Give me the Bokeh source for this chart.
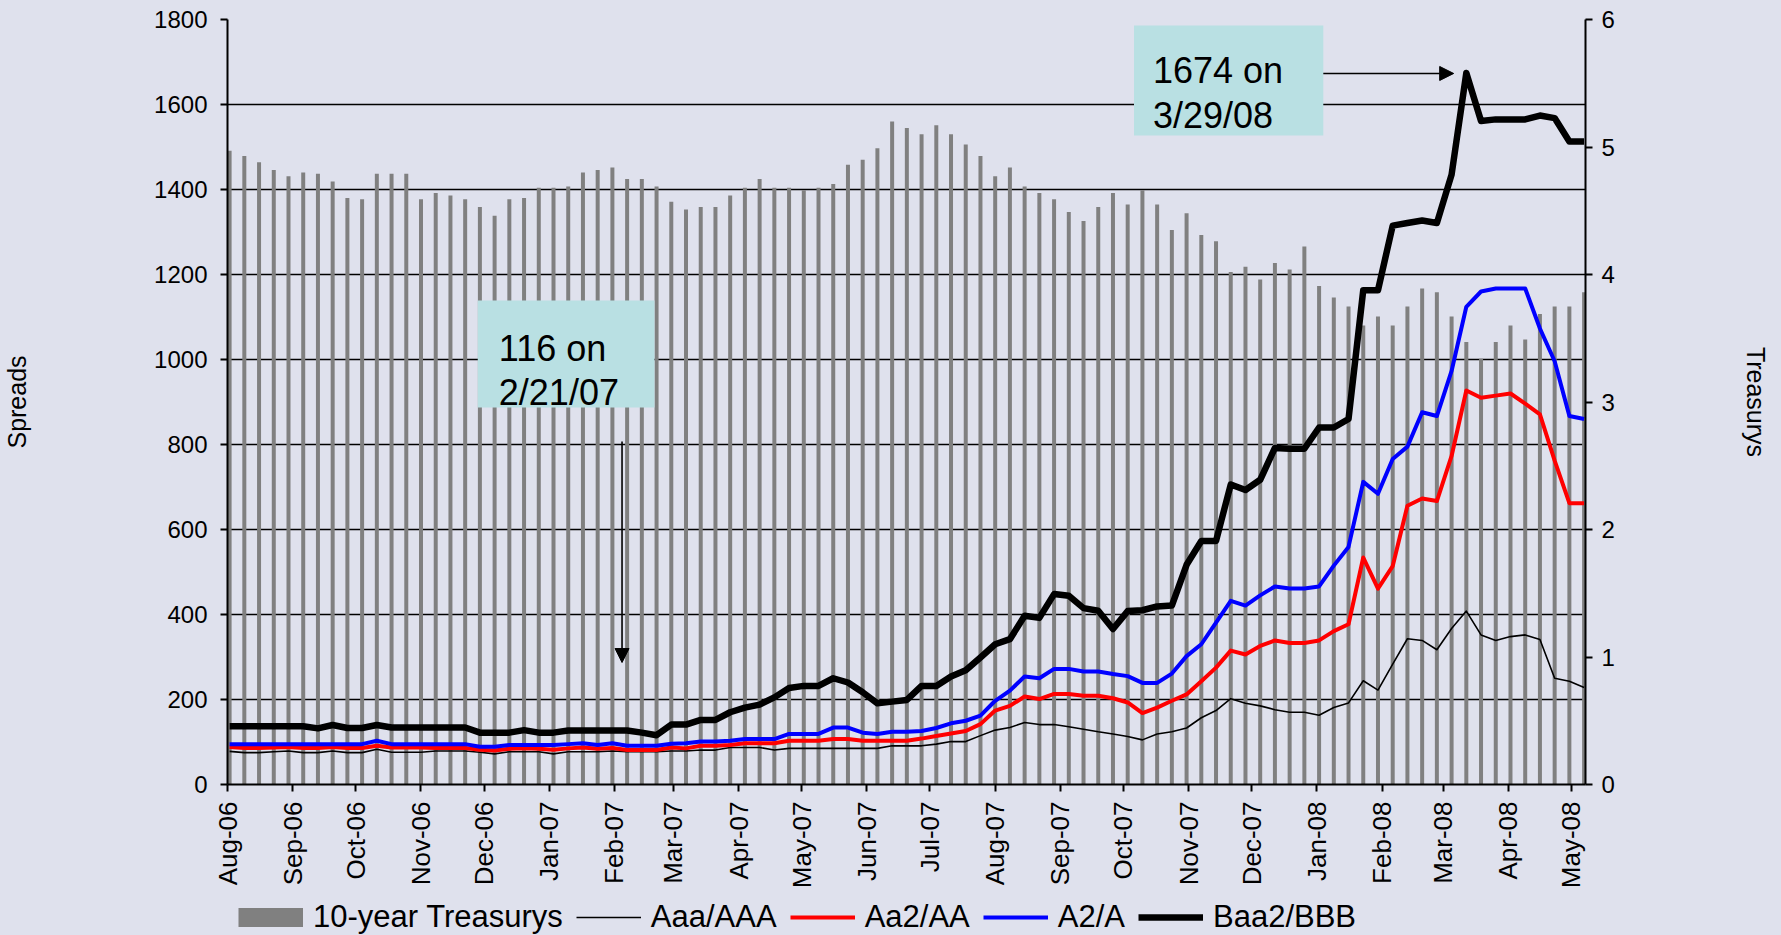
import pandas as pd
from math import pi
from bokeh.plotting import figure
from bokeh.layouts import column
from bokeh.models import (Range1d, LinearAxis, SingleIntervalTicker, DatetimeTickFormatter,
                          MonthsTicker, Legend, LegendItem, BoxAnnotation, Label, Arrow, NormalHead)
from bokeh.embed import file_html
from bokeh.resources import INLINE

# ---------------- data (weekly observations) ----------------
dates = pd.date_range("2006-08-02", periods=93, freq="7D")

treasury = [4.97, 4.93, 4.88, 4.82, 4.77, 4.80, 4.79, 4.73, 4.60, 4.59,
            4.79, 4.79, 4.79, 4.59, 4.64, 4.62, 4.59, 4.53, 4.46, 4.59,
            4.60, 4.68, 4.68, 4.69, 4.80, 4.82, 4.84, 4.75, 4.75, 4.69,
            4.57, 4.51, 4.53, 4.53, 4.62, 4.68, 4.75, 4.68, 4.68, 4.66,
            4.68, 4.71, 4.86, 4.90, 4.99, 5.20, 5.15, 5.10, 5.17, 5.10,
            5.02, 4.93, 4.77, 4.84, 4.69, 4.64, 4.59, 4.49, 4.42, 4.53,
            4.64, 4.55, 4.66, 4.55, 4.35, 4.48, 4.31, 4.26, 4.02, 4.06,
            3.96, 4.09, 4.04, 4.22, 3.91, 3.82, 3.75, 3.60, 3.67, 3.60,
            3.75, 3.89, 3.86, 3.67, 3.47, 3.34, 3.47, 3.60, 3.49, 3.69,
            3.75, 3.75, 3.86]

aaa = [78, 75, 75, 77, 79, 75, 75, 79, 75, 75,
       83, 76, 76, 76, 79, 79, 79, 76, 72, 77,
       77, 77, 72, 77, 77, 77, 79, 77, 77, 77,
       79, 79, 81, 81, 87, 87, 87, 81, 85, 85,
       85, 85, 85, 85, 85, 91, 91, 91, 95, 101,
       101, 115, 128, 134, 146, 141, 141, 136, 130, 124,
       119, 113, 105, 119, 124, 133, 157, 174, 202, 191,
       185, 176, 170, 170, 163, 181, 192, 244, 222, 283,
       343, 339, 317, 367, 408, 352, 339, 348, 352, 341,
       250, 243, 228]

aa = [88, 86, 86, 87, 88, 86, 86, 88, 86, 86,
      91, 87, 87, 87, 86, 86, 86, 82, 80, 84,
      85, 84, 82, 85, 87, 84, 86, 81, 81, 81,
      87, 85, 91, 91, 93, 97, 97, 97, 103, 103,
      103, 107, 107, 103, 103, 103, 103, 108, 114, 120,
      126, 142, 174, 185, 207, 201, 213, 213, 209, 209,
      203, 193, 168, 181, 197, 212, 243, 275, 315, 306,
      326, 339, 333, 333, 339, 361, 377, 534, 461, 514,
      656, 673, 667, 773, 927, 910, 915, 920, 896, 871,
      762, 662, 662]

a_single = [95, 95, 95, 95, 95, 95, 95, 95, 95, 95,
            103, 95, 95, 95, 95, 95, 95, 89, 89, 93,
            93, 93, 93, 95, 97, 93, 97, 91, 91, 91,
            96, 97, 101, 101, 103, 107, 107, 107, 119, 119,
            119, 134, 134, 122, 119, 124, 124, 126, 133, 144,
            150, 162, 197, 221, 254, 250, 272, 272, 266, 266,
            260, 255, 239, 239, 261, 302, 330, 381, 432, 421,
            445, 466, 461, 461, 466, 515, 559, 712, 684, 766,
            795, 876, 867, 973, 1124, 1160, 1167, 1167, 1167, 1073,
            996, 867, 860]

baa = [137, 137, 137, 137, 137, 137, 132, 140, 133, 133,
       140, 134, 134, 134, 134, 134, 134, 122, 122, 122,
       128, 122, 122, 127, 127, 127, 127, 127, 122, 116,
       141, 141, 152, 152, 170, 181, 188, 205, 227, 232,
       232, 250, 240, 217, 191, 195, 199, 232, 232, 254,
       269, 299, 330, 342, 397, 392, 448, 444, 415, 409,
       366, 408, 410, 419, 421, 517, 573, 573, 706, 693,
       717, 792, 790, 790, 840, 840, 860, 1163, 1163, 1315,
       1321, 1327, 1321, 1435, 1674, 1561, 1565, 1565, 1565, 1574,
       1568, 1513, 1513]

series_labels = ["10-year Treasurys", "Aaa/AAA", "Aa2/AA", "A2/A", "Baa2/BBB"]
left_title = "Spreads"
right_title = "Treasurys"

# ---------------- styling ----------------
BG = "#DFE1ED"
FONT = "Liberation Sans"
BOX = "#B9E0E3"
GRAY = "#808080"
DAY = 86400000.0
W, H_MAIN, H_LEG = 1781, 893, 42


def ms(ts):
    return pd.Timestamp(ts).value / 1e6


p = figure(width=W, height=H_MAIN, x_axis_type="datetime",
           x_range=Range1d(pd.Timestamp("2006-08-01"), pd.Timestamp("2008-05-07 16:00")),
           y_range=Range1d(0, 1800),
           output_backend="svg", toolbar_location=None,
           min_border_left=227, min_border_right=196, min_border_top=19, min_border_bottom=109,
           background_fill_color=BG, border_fill_color=BG, outline_line_color=None)

p.extra_y_ranges = {"treas": Range1d(0, 6)}

# grid
p.xgrid.grid_line_color = None
p.ygrid.grid_line_color = "black"
p.ygrid.grid_line_width = 1.6

p.yaxis.ticker = SingleIntervalTicker(interval=200, num_minor_ticks=0)
p.xaxis.ticker = MonthsTicker(months=list(range(12)))
p.xaxis.formatter = DatetimeTickFormatter(months="%b-%y", days="%b-%y", years="%b-%y")
p.xaxis.major_label_orientation = pi / 2

right = LinearAxis(y_range_name="treas", ticker=SingleIntervalTicker(interval=1, num_minor_ticks=0))
p.add_layout(right, "right")

for ax in p.axis:
    ax.axis_line_color = "black"
    ax.axis_line_width = 2
    ax.major_tick_line_color = "black"
    ax.major_tick_line_width = 2
    ax.major_tick_out = 7
    ax.major_tick_in = 0
    ax.minor_tick_out = 0
    ax.minor_tick_in = 0
    ax.major_label_text_font = FONT
    ax.major_label_text_color = "black"
    ax.major_label_text_font_size = "24px"
    ax.axis_label_text_font = FONT
    ax.axis_label_text_font_style = "normal"
    ax.axis_label_text_color = "black"
    ax.axis_label_text_font_size = "25px"

p.yaxis.major_label_standoff = 13
p.yaxis.axis_label = left_title
p.yaxis.axis_label_standoff = 120

right.major_label_standoff = 9
right.axis_label = right_title
right.axis_label_standoff = 124

p.xaxis.major_label_text_font_size = "26px"
p.xaxis.major_label_standoff = 10

# ---------------- glyphs ----------------
bars = p.vbar(x=dates, top=treasury, bottom=0, width=1.9 * DAY, y_range_name="treas",
              fill_color=GRAY, line_color=None)
l_aaa = p.line(dates, aaa, line_color="black", line_width=1.6, line_join="round")
l_aa = p.line(dates, aa, line_color="#FF0000", line_width=4, line_join="round")
l_a = p.line(dates, a_single, line_color="#0000FF", line_width=4, line_join="round")
l_baa = p.line(dates, baa, line_color="black", line_width=6.5, line_join="round")

# ---------------- annotations ----------------
p.add_layout(BoxAnnotation(left=ms("2007-10-06"), right=ms("2008-01-04"), bottom=1527, top=1786,
                           fill_color=BOX, fill_alpha=1, line_color=None))
p.add_layout(BoxAnnotation(left=ms("2006-11-28"), right=ms("2007-02-20"), bottom=887, top=1139,
                           fill_color=BOX, fill_alpha=1, line_color=None))

ann_font = "36px"
for txt, x, y in [("1674 on", "2007-10-15", 1680), ("3/29/08", "2007-10-15", 1575),
                  ("116 on", "2006-12-08", 1027), ("2/21/07", "2006-12-08", 922)]:
    p.add_layout(Label(x=ms(x), y=y, text=txt, text_font=FONT, text_font_size=ann_font,
                       text_color="black", text_align="left", text_baseline="alphabetic"))

p.add_layout(Arrow(end=NormalHead(size=14, fill_color="black", line_color="black"),
                   x_start=ms("2008-01-04"), y_start=1673, x_end=ms("2008-03-06"), y_end=1673,
                   line_color="black", line_width=1.6))
p.add_layout(Arrow(end=NormalHead(size=14, fill_color="black", line_color="black"),
                   x_start=ms("2007-02-04 14:00"), y_start=807, x_end=ms("2007-02-04 14:00"), y_end=287,
                   line_color="black", line_width=1.6))

# ---------------- legend strip (separate figure below the chart) ----------------
# its frame is aligned with the chart frame by the column layout
leg = figure(width=W, height=H_LEG, x_range=Range1d(0, 1), y_range=Range1d(0, 1),
             output_backend="svg", toolbar_location=None,
             x_axis_location=None, y_axis_location=None, min_border=0,
             background_fill_color=BG, border_fill_color=BG, outline_line_color=None)
leg.grid.visible = False
NAN = [float("nan")]
sw_t = leg.line(x=NAN, y=NAN, line_color=GRAY, line_width=19, line_cap="butt")
sw_aaa = leg.line(x=NAN, y=NAN, line_color="black", line_width=1.6)
sw_aa = leg.line(x=NAN, y=NAN, line_color="#FF0000", line_width=4)
sw_a = leg.line(x=NAN, y=NAN, line_color="#0000FF", line_width=4)
sw_baa = leg.line(x=NAN, y=NAN, line_color="black", line_width=6.5)

legend = Legend(items=[LegendItem(label=series_labels[0], renderers=[sw_t]),
                       LegendItem(label=series_labels[1], renderers=[sw_aaa]),
                       LegendItem(label=series_labels[2], renderers=[sw_aa]),
                       LegendItem(label=series_labels[3], renderers=[sw_a]),
                       LegendItem(label=series_labels[4], renderers=[sw_baa])],
                orientation="horizontal", location=(11, 0), padding=0, margin=0, spacing=13,
                label_standoff=10, glyph_width=65, glyph_height=22,
                border_line_color=None, background_fill_alpha=0,
                label_text_font=FONT, label_text_font_size="31px", label_text_color="black")
leg.add_layout(legend, "center")

layout = column(p, leg, spacing=0)

html = file_html(layout, INLINE)
html = html.replace("<head>", "<head><style>html,body{background:%s;}</style>" % BG, 1)
open("out.html", "w").write(html)
